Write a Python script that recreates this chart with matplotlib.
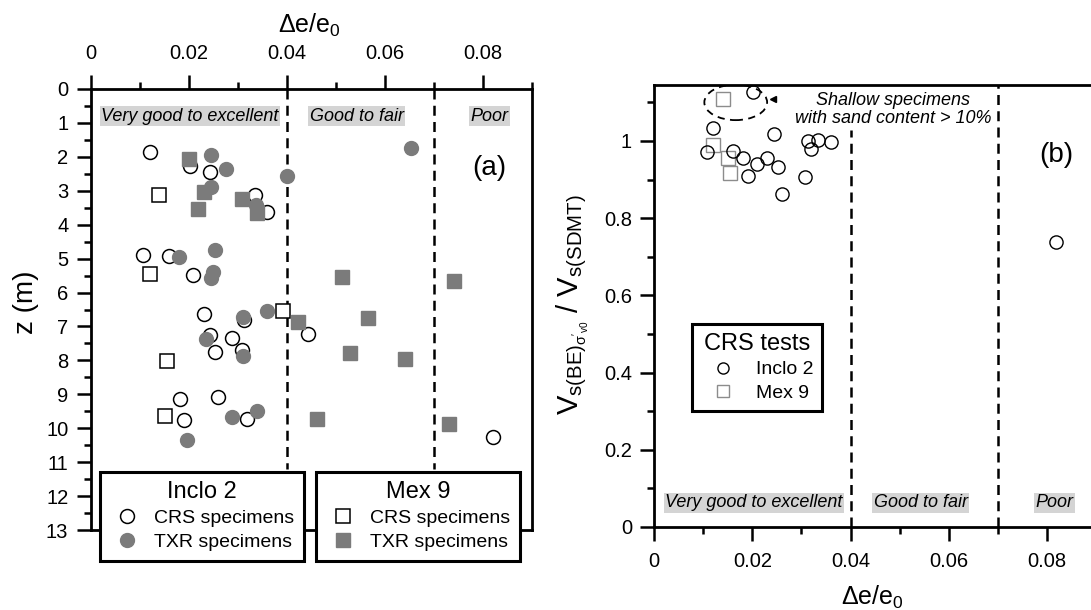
import numpy as np
import matplotlib
matplotlib.use("Agg")
import matplotlib.pyplot as plt
from matplotlib.lines import Line2D
from matplotlib.patches import Ellipse
from matplotlib.ticker import MultipleLocator, FuncFormatter

plt.rcParams["font.family"] = ["Liberation Sans", "DejaVu Sans"]
plt.rcParams["mathtext.fontset"] = "custom"
plt.rcParams["mathtext.rm"] = "Liberation Sans"
plt.rcParams["mathtext.it"] = "Liberation Sans:italic"
plt.rcParams["mathtext.bf"] = "Liberation Sans:bold"

# (a) depth profile: de/e0 vs z
inclo_crs_de = [0.0121, 0.0203, 0.0244, 0.0335, 0.0361, 0.0107, 0.0160, 0.0210, 0.0232, 0.0313,
                0.0243, 0.0288, 0.0255, 0.0309, 0.0182, 0.0260, 0.0191, 0.0320, 0.0443, 0.0821]
inclo_crs_z = [1.85, 2.27, 2.46, 3.13, 3.64, 4.88, 4.92, 5.49, 6.64, 6.81,
               7.24, 7.33, 7.76, 7.70, 9.15, 9.09, 9.77, 9.74, 7.23, 10.26]

inclo_txr_de = [0.0245, 0.0276, 0.0245, 0.0400, 0.0338, 0.0654, 0.0180, 0.0255, 0.0250,
                0.0245, 0.0312, 0.0361, 0.0235, 0.0312, 0.0288, 0.0340, 0.0197]
inclo_txr_z = [1.95, 2.36, 2.88, 2.57, 3.42, 1.75, 4.95, 4.75, 5.39,
               5.57, 6.73, 6.55, 7.38, 7.88, 9.67, 9.50, 10.35]

mex_crs_de = [0.0140, 0.0121, 0.0393, 0.0156, 0.0152]
mex_crs_z = [3.13, 5.44, 6.54, 8.02, 9.65]

mex_txr_de = [0.0200, 0.0232, 0.0219, 0.0309, 0.0339, 0.0513, 0.0742, 0.0423, 0.0567,
              0.0530, 0.0641, 0.0462, 0.0731]
mex_txr_z = [2.06, 3.03, 3.54, 3.25, 3.67, 5.54, 5.65, 6.86, 6.75,
             7.77, 7.95, 9.74, 9.88]

# (b) Vs ratio vs de/e0 (CRS tests)
inclo2_de = [0.0202, 0.0120, 0.0243, 0.0314, 0.0333, 0.0360, 0.0320, 0.0107, 0.0160,
             0.0180, 0.0209, 0.0230, 0.0253, 0.0192, 0.0307, 0.0260, 0.0819]
inclo2_ratio = [1.126, 1.034, 1.018, 1.001, 1.003, 0.998, 0.979, 0.971, 0.975,
                0.955, 0.940, 0.955, 0.932, 0.909, 0.906, 0.863, 0.737]

mex9_de = [0.0141, 0.0120, 0.0151, 0.0154]
mex9_ratio = [1.109, 0.990, 0.955, 0.918]

limits = [0.04, 0.07]
zones = ["Very good to excellent", "Good to fair", "Poor"]
zone_x = [0.0203, 0.0543, 0.0815]

GREY = "#7b7b7b"
W, H = 1091, 610


def fmt(v, _):
    return f"{v:g}"


def style_ticks(ax):
    ax.tick_params(which="major", direction="out", length=10, width=1.8, labelsize=14.5)
    ax.tick_params(which="minor", direction="out", length=5, width=1.8)
    for s in ax.spines.values():
        s.set_linewidth(2)


def zone_label(ax, x, y, txt):
    ax.text(x, y, txt, ha="center", va="center", fontsize=13, style="italic",
            bbox=dict(boxstyle="square,pad=0.08", facecolor="#d4d4d4", edgecolor="none"))


fig = plt.figure(figsize=(W / 100, H / 100), dpi=100)

# ---------------- panel (a)
ax1 = fig.add_axes([90.5 / W, (H - 530) / H, 441 / W, 441 / H])
ax1.set_xlim(0, 0.09)
ax1.set_ylim(13, 0)
ax1.xaxis.tick_top()
ax1.xaxis.set_label_position("top")
ax1.xaxis.set_major_locator(MultipleLocator(0.02))
ax1.xaxis.set_minor_locator(MultipleLocator(0.01))
ax1.yaxis.set_major_locator(MultipleLocator(1))
ax1.yaxis.set_minor_locator(MultipleLocator(0.5))
ax1.xaxis.set_major_formatter(FuncFormatter(fmt))
style_ticks(ax1)
ax1.tick_params(axis="x", pad=9)
ax1.tick_params(axis="y", pad=6)

for xv in limits:
    ax1.plot([xv, xv], [0, 11.2], color="black", lw=1.8, ls=(0, (4, 2.5)), zorder=1)
for x, t in zip(zone_x, zones):
    zone_label(ax1, x, 0.8, t)

ax1.plot(inclo_crs_de, inclo_crs_z, "o", ms=10, mfc="white", mec="black", mew=1.1, ls="none", zorder=3)
ax1.plot(inclo_txr_de, inclo_txr_z, "o", ms=10, mfc=GREY, mec=GREY, ls="none", zorder=3)
ax1.plot(mex_crs_de, mex_crs_z, "s", ms=10, mfc="white", mec="black", mew=1.1, ls="none", zorder=4)
ax1.plot(mex_txr_de, mex_txr_z, "s", ms=10, mfc=GREY, mec=GREY, ls="none", zorder=4)

ax1.text(0.0813, 2.34, "(a)", fontsize=20, ha="center", va="center")

ax1.set_xlabel("Δe/e$_0$", fontsize=18)
ax1.xaxis.set_label_coords((309 - 90.5) / 441, (530 - 25) / 441)
ax1.xaxis.label.set_va("center")
ax1.set_ylabel("z (m)", fontsize=20)
ax1.yaxis.set_label_coords((26 - 90.5) / 441, (530 - 302) / 441)
ax1.yaxis.label.set_va("center")

leg_kw = dict(frameon=True, fancybox=False, framealpha=1, edgecolor="black",
              fontsize=14, title_fontsize=17, loc="upper left",
              bbox_transform=fig.transFigure, borderpad=0.5, handletextpad=0.5,
              labelspacing=0.32, handlelength=1.8, borderaxespad=0)
h1 = [Line2D([], [], marker="o", ls="none", ms=10, mfc="white", mec="black", mew=1.1),
      Line2D([], [], marker="o", ls="none", ms=10, mfc=GREY, mec=GREY)]
leg1 = ax1.legend(h1, ["CRS specimens", "TXR specimens"], title="Inclo 2",
                  bbox_to_anchor=(100 / W, 1 - 471.7 / H), **leg_kw)
leg1.get_frame().set_linewidth(2.2)
ax1.add_artist(leg1)
h2 = [Line2D([], [], marker="s", ls="none", ms=10, mfc="white", mec="black", mew=1.1),
      Line2D([], [], marker="s", ls="none", ms=10, mfc=GREY, mec=GREY)]
leg2 = ax1.legend(h2, ["CRS specimens", "TXR specimens"], title="Mex 9",
                  bbox_to_anchor=(316 / W, 1 - 471.7 / H), **leg_kw)
leg2.get_frame().set_linewidth(2.2)

# ---------------- panel (b)
ax2 = fig.add_axes([654.3 / W, (H - 527) / H, 441.5 / W, (527 - 85) / H])
ax2.set_xlim(0, 0.09)
ax2.set_ylim(0, 1.145)
ax2.xaxis.set_major_locator(MultipleLocator(0.02))
ax2.xaxis.set_minor_locator(MultipleLocator(0.01))
ax2.yaxis.set_major_locator(MultipleLocator(0.2))
ax2.yaxis.set_minor_locator(MultipleLocator(0.1))
ax2.xaxis.set_major_formatter(FuncFormatter(fmt))
ax2.yaxis.set_major_formatter(FuncFormatter(fmt))
style_ticks(ax2)
ax2.tick_params(axis="x", pad=8)
ax2.tick_params(axis="y", pad=6)

ax2.plot([0.04, 0.04], [0, 1.028], color="black", lw=1.8, ls=(0, (4, 2.5)), zorder=1)
ax2.plot([0.07, 0.07], [0, 1.145], color="black", lw=1.8, ls=(0, (4, 2.5)), zorder=1)
for x, t in zip(zone_x, zones):
    zone_label(ax2, x, 0.063, t)

ax2.plot(mex9_de, mex9_ratio, "s", ms=10, mfc="none", mec="#8c8c8c", mew=1.0, ls="none", zorder=3)
ax2.plot(inclo2_de, inclo2_ratio, "o", ms=9.5, mfc="none", mec="black", mew=1.0, ls="none", zorder=4)

ax2.add_patch(Ellipse((0.0166, 1.10), 0.0128, 0.092, fill=False, ec="black",
                      lw=1.3, ls=(0, (4, 3))))
ax2.plot([0.0241], [1.108], marker="<", ms=5, color="black", ls="none")
ax2.text(0.0487, 1.081, "Shallow specimens\nwith sand content > 10%", fontsize=13,
         style="italic", ha="center", va="center", linespacing=1.1)
ax2.text(0.082, 0.964, "(b)", fontsize=20, ha="center", va="center")

ax2.set_xlabel("Δe/e$_0$", fontsize=18)
ax2.xaxis.set_label_coords(0.495, (527 - 597) / 442)
ax2.xaxis.label.set_va("center")
ax2.set_ylabel(r"V$_{\mathrm{s(BE)}_{\mathrm{σ}'_{\mathrm{v0}}}}$ / V$_{\mathrm{s(SDMT)}}$", fontsize=21)
ax2.yaxis.set_label_coords((573 - 654.3) / 441.5, (527 - 305) / 442)
ax2.yaxis.label.set_va("center")

leg3 = ax2.legend([Line2D([], [], marker="o", ls="none", ms=8, mfc="none", mec="black", mew=1.0),
                   Line2D([], [], marker="s", ls="none", ms=8, mfc="none", mec="#8c8c8c", mew=1.0)],
                  ["Inclo 2", "Mex 9"], title="CRS tests", frameon=True, fancybox=False,
                  framealpha=1, edgecolor="black", fontsize=14, title_fontsize=17,
                  loc="upper left", bbox_to_anchor=(691.7 / W, 1 - 324.3 / H),
                  bbox_transform=fig.transFigure, borderpad=0.45, handletextpad=0.55,
                  labelspacing=0.3, handlelength=2.3, borderaxespad=0)
leg3.get_frame().set_linewidth(2.2)

fig.savefig("out.png", dpi=100)
